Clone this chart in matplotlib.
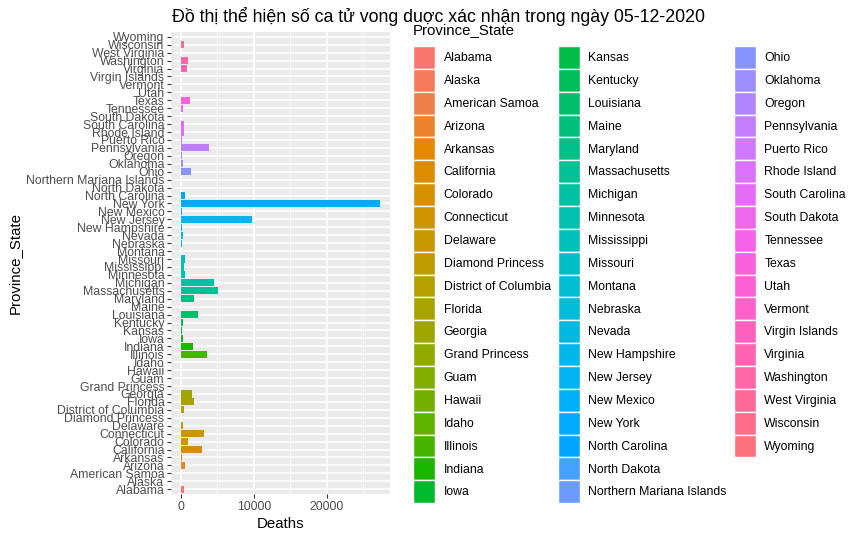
import numpy as np
import matplotlib
matplotlib.use("Agg")
import matplotlib.pyplot as plt
from matplotlib.patches import Patch

plt.rcParams['font.family'] = ['Liberation Sans', 'DejaVu Sans']

# Deaths per state, 05-12-2020
states = ["Alabama", "Alaska", "American Samoa", "Arizona", "Arkansas", "California",
          "Colorado", "Connecticut", "Delaware", "Diamond Princess", "District of Columbia",
          "Florida", "Georgia", "Grand Princess", "Guam", "Hawaii", "Idaho", "Illinois",
          "Indiana", "Iowa", "Kansas", "Kentucky", "Louisiana", "Maine", "Maryland",
          "Massachusetts", "Michigan", "Minnesota", "Mississippi", "Missouri", "Montana",
          "Nebraska", "Nevada", "New Hampshire", "New Jersey", "New Mexico", "New York",
          "North Carolina", "North Dakota", "Northern Mariana Islands", "Ohio", "Oklahoma",
          "Oregon", "Pennsylvania", "Puerto Rico", "Rhode Island", "South Carolina",
          "South Dakota", "Tennessee", "Texas", "Utah", "Vermont", "Virgin Islands",
          "Virginia", "Washington", "West Virginia", "Wisconsin", "Wyoming"]
deaths = [464, 10, 0, 562, 88, 2863,
          1009, 3125, 228, 3, 350,
          1854, 1484, 3, 5, 17, 73, 3601,
          1621, 289, 163, 311, 2381, 64, 1786,
          5141, 4584, 591, 438, 529, 16,
          113, 302, 133, 9702, 210, 27284,
          589, 38, 2, 1357, 266,
          130, 3806, 111, 425, 355,
          39, 262, 1174, 67, 53, 4,
          891, 955, 52, 434, 7]


def hcl_to_rgb(h, c=100.0, l=65.0):
    # polar LUV -> sRGB, as R's hcl()
    xn, yn, zn = 95.047, 100.0, 108.883
    h = np.deg2rad(h)
    U, V = c * np.cos(h), c * np.sin(h)
    Y = yn * ((l + 16) / 116) ** 3 if l > 8 else yn * l / 903.3
    t = xn + yn + zn
    x, y = xn / t, yn / t
    un = 2 * x / (6 * y - x + 1.5)
    vn = 4.5 * y / (6 * y - x + 1.5)
    u = U / (13 * l) + un
    v = V / (13 * l) + vn
    X = 9.0 * Y * u / (4 * v)
    Z = -X / 3 - 5 * Y + 3 * Y / v
    X, Y, Z = X / 100, Y / 100, Z / 100
    r = 3.240479 * X - 1.537150 * Y - 0.498535 * Z
    g = -0.969256 * X + 1.875992 * Y + 0.041556 * Z
    b = 0.055648 * X - 0.204043 * Y + 1.057311 * Z
    out = []
    for ch in (r, g, b):
        ch = 1.055 * ch ** (1 / 2.4) - 0.055 if ch > 0.0031308 else 12.92 * ch
        out.append(min(max(ch, 0), 1))
    return tuple(out)


n = len(states)
hues = np.linspace(15, 375, n + 1)[:n]
colors = [hcl_to_rgb(hh) for hh in hues]

W, H = 862, 538
fig = plt.figure(figsize=(W / 100, H / 100), dpi=100)
px = lambda x0, y0, x1, y1: [x0 / W, 1 - y1 / H, (x1 - x0) / W, (y1 - y0) / H]
ax = fig.add_axes(px(171, 32, 390, 494))

ypos = np.arange(n)
ax.barh(ypos, deaths, height=0.9, color=colors, zorder=3)

ax.set_xlim(-max(deaths) * 0.05, max(deaths) * 1.05)
ax.set_ylim(-0.6, n - 0.4)
ax.set_facecolor('#EBEBEB')
for s in ax.spines.values():
    s.set_visible(False)

ax.set_xticks([0, 10000, 20000])
ax.set_xticks([5000, 15000, 25000], minor=True)
ax.set_yticks(ypos)
ax.set_yticklabels(states)
ax.grid(which='major', color='white', linewidth=1.1, zorder=1)
ax.grid(which='minor', axis='x', color='white', linewidth=0.55, zorder=1)
ax.tick_params(axis='both', which='major', length=2.75, width=0.8, color='#333333',
               labelcolor='#4D4D4D', labelsize=8.8, pad=2)
ax.tick_params(axis='x', which='minor', length=0)
ax.set_xlabel("Deaths", fontsize=10.8, labelpad=3)
ax.set_ylabel("Province_State", fontsize=10.8, labelpad=3)

fig.text(172 / W, 1 - 22 / H, "Đồ thị thể hiện số ca tử vong duợc xác nhận trong ngày 05-12-2020",
         fontsize=12.8, ha='left', va='baseline')

# legend title
fig.text(413 / W, 1 - 30 / H, "Province_State", fontsize=10.8, ha='left', va='center')

handles = [Patch(facecolor=c, edgecolor='white', linewidth=1) for c in colors]
labels = list(states)
# two empty slots so the columns split 20 / 20 / 18
handles += [Patch(facecolor='none', edgecolor='none')] * 2
labels += ["", ""]
leg = fig.legend(handles, labels, loc='upper left', bbox_to_anchor=(413 / W, 1 - 46 / H),
                 ncol=3, frameon=False, fontsize=8.8,
                 borderpad=0, borderaxespad=0,
                 handlelength=1.8, handleheight=2.5, labelspacing=0.0,
                 handletextpad=0.7, columnspacing=0.58)

fig.savefig("out.png", dpi=100)
